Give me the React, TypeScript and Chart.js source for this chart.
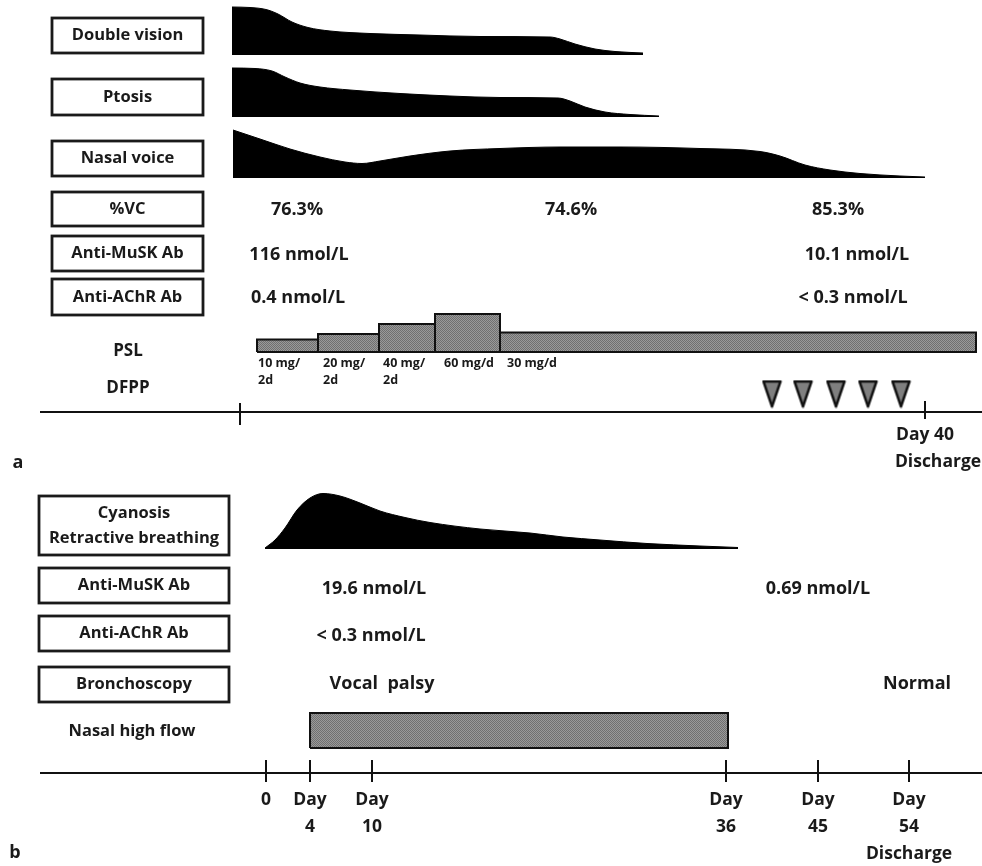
import { useEffect, useRef } from "react";
import { Chart, registerables } from "chart.js";

Chart.register(...registerables);

const W = 982;
const H = 866;
const FONT = '"Open Sans", "DejaVu Sans", sans-serif';

// ---- Panel a: symptom intensity profiles (schematic figure units) ----
const doubleVisionX = [232, 250, 266, 278, 292, 308, 330, 370, 420, 480, 550, 560, 575, 595, 615, 643];
const doubleVisionY = [7, 7.5, 9.5, 14, 22, 27.5, 31, 33.5, 35, 36.5, 37, 39, 44, 49, 51.5, 53];
const doubleVisionBase = 55;

const ptosisX = [232, 255, 272, 285, 300, 320, 350, 400, 450, 500, 558, 570, 585, 605, 630, 659];
const ptosisY = [68, 68.5, 71, 77, 83, 87, 90, 93.5, 96, 97.5, 98, 101, 107, 112, 114.5, 116];
const ptosisBase = 117;

const nasalVoiceX = [233, 260, 290, 320, 345, 362, 380, 410, 450, 500, 560, 620, 700, 760, 780, 805, 830, 860, 900, 925];
const nasalVoiceY = [130, 139, 149, 157, 162, 163.5, 161, 156, 151, 148.5, 147, 147, 148.5, 151.5, 156, 165, 170, 173.5, 176, 177];
const nasalVoiceBase = 178;

// ---- Panel a: PSL dose steps ----
const pslDoses = ["10 mg/\n2d", "20 mg/\n2d", "40 mg/\n2d", "60 mg/d", "30 mg/d"];
const pslStart = [257, 318, 379, 435, 500];
const pslEnd = [318, 379, 435, 500, 976];
const pslTop = [339.5, 334, 324, 314, 332.5];
const pslBase = 352;
const pslLabelX = [258, 323, 383, 444, 507];

// ---- Panel a: DFPP sessions ----
const dfppX = [772, 803, 836, 868, 901];
const dfppY = [394, 394, 394, 394, 394];

// ---- Panel a: values ----
const vcValues = ["76.3%", "74.6%", "85.3%"];
const vcX = [297, 571, 838];
const muskA = ["116 nmol/L", "10.1 nmol/L"];
const muskAX = [299, 857];
const achrA = ["0.4 nmol/L", "< 0.3 nmol/L"];
const achrAX = [298, 853];

// ---- Panel b: cyanosis profile ----
const cyanosisX = [265, 275, 285, 297, 310, 323, 340, 360, 380, 405, 430, 480, 530, 563, 600, 647, 700, 738];
const cyanosisY = [548, 540, 528, 510, 498, 493.5, 496, 503, 511, 517.5, 522.5, 529, 533, 537, 540, 543.5, 546, 547.5];
const cyanosisBase = 549;

// ---- Panel b: nasal high flow period ----
const nhfStart = 310;
const nhfEnd = 728;
const nhfTop = 713;
const nhfBottom = 748;

// ---- Panel b: values ----
const muskB = ["19.6 nmol/L", "0.69 nmol/L"];
const muskBX = [374, 818];
const achrB = ["< 0.3 nmol/L"];
const achrBX = [371];
const bronchB = ["Vocal  palsy", "Normal"];
const bronchBX = [382, 917];

// ---- Time axes ----
const axisA = { y: 412, ticks: [240, 925], tickY: [414, 410], tickHalf: [11, 9] };
const axisB = { y: 773, ticks: [266, 310, 372, 726, 818, 909] };
const axisBLabels = [["0"], ["Day", "4"], ["Day", "10"], ["Day", "36"], ["Day", "45"], ["Day", "54", "Discharge"]];

const labelBoxesA = [
  { text: ["Double vision"], y0: 18, y1: 53 },
  { text: ["Ptosis"], y0: 79, y1: 115 },
  { text: ["Nasal voice"], y0: 141, y1: 176 },
  { text: ["%VC"], y0: 192, y1: 226 },
  { text: ["Anti-MuSK Ab"], y0: 236, y1: 271 },
  { text: ["Anti-AChR Ab"], y0: 279, y1: 315 },
];
const labelBoxesB = [
  { text: ["Cyanosis", "Retractive breathing"], y0: 496, y1: 555 },
  { text: ["Anti-MuSK Ab"], y0: 568, y1: 603 },
  { text: ["Anti-AChR Ab"], y0: 616, y1: 651 },
  { text: ["Bronchoscopy"], y0: 667, y1: 702 },
];

function pts(xs: number[], ys: number[]) {
  return xs.map((x, i) => ({ x, y: ys[i] }));
}

function rect(x0: number, x1: number, y0: number, y1: number) {
  return [
    { x: x0, y: y1 },
    { x: x0, y: y0 },
    { x: x1, y: y0 },
    { x: x1, y: y1 },
    { x: x0, y: y1 },
  ];
}

export default function App() {
  const ref = useRef<HTMLCanvasElement | null>(null);

  useEffect(() => {
    const canvas = ref.current;
    if (!canvas) return;

    // stippled grey pattern
    const pc = document.createElement("canvas");
    pc.width = 2;
    pc.height = 2;
    const pctx = pc.getContext("2d")!;
    pctx.fillStyle = "#9a9a9a";
    pctx.fillRect(0, 0, 2, 2);
    pctx.fillStyle = "#707070";
    pctx.fillRect(0, 0, 1, 1);
    pctx.fillRect(1, 1, 1, 1);
    const ctx0 = canvas.getContext("2d")!;
    const pattern = ctx0.createPattern(pc, "repeat") || "#888";

    // downward triangle marker
    const tri = document.createElement("canvas");
    tri.width = 21;
    tri.height = 29;
    const tctx = tri.getContext("2d")!;
    tctx.beginPath();
    tctx.moveTo(2, 2);
    tctx.lineTo(19, 2);
    tctx.lineTo(10.5, 27);
    tctx.closePath();
    tctx.fillStyle = "#7f7f7f";
    tctx.fill();
    tctx.lineWidth = 2.5;
    tctx.lineJoin = "round";
    tctx.strokeStyle = "#111";
    tctx.stroke();

    const shape = (label: string, data: any[], base: number) => ({
      label,
      data,
      showLine: true,
      fill: { value: base },
      backgroundColor: "#000",
      borderColor: "#000",
      borderWidth: 1,
      pointRadius: 0,
      cubicInterpolationMode: "monotone" as const,
    });

    const box = (label: string, data: any[]) => ({
      label,
      data,
      showLine: true,
      fill: "shape",
      backgroundColor: pattern,
      borderColor: "#111",
      borderWidth: 2,
      pointRadius: 0,
      tension: 0,
    });

    const datasets: any[] = [
      shape("Double vision", pts(doubleVisionX, doubleVisionY), doubleVisionBase),
      shape("Ptosis", pts(ptosisX, ptosisY), ptosisBase),
      shape("Nasal voice", pts(nasalVoiceX, nasalVoiceY), nasalVoiceBase),
      shape("Cyanosis", pts(cyanosisX, cyanosisY), cyanosisBase),
      ...pslStart.map((s, i) => box("PSL " + pslDoses[i], rect(s, pslEnd[i], pslTop[i], pslBase))),
      box("Nasal high flow", rect(nhfStart, nhfEnd, nhfTop, nhfBottom)),
      {
        label: "axis a",
        data: [{ x: 40, y: axisA.y }, { x: W, y: axisA.y }],
        showLine: true,
        borderColor: "#111",
        borderWidth: 2,
        pointRadius: 0,
      },
      {
        label: "axis b",
        data: [{ x: 40, y: axisB.y }, { x: W, y: axisB.y }],
        showLine: true,
        borderColor: "#111",
        borderWidth: 2,
        pointRadius: 0,
      },
      {
        label: "ticks a",
        data: axisA.ticks.map((x, i) => ({ x, y: axisA.tickY[i] })),
        showLine: false,
        pointStyle: "line",
        rotation: 90,
        pointRadius: axisA.tickHalf,
        borderColor: "#111",
        borderWidth: 2,
      },
      {
        label: "ticks b",
        data: axisB.ticks.map((x) => ({ x, y: axisB.y - 2 })),
        showLine: false,
        pointStyle: "line",
        rotation: 90,
        pointRadius: 11,
        borderColor: "#111",
        borderWidth: 2,
      },
      {
        label: "DFPP",
        data: pts(dfppX, dfppY),
        showLine: false,
        pointStyle: tri,
        pointRadius: 10,
      },
    ];

    const textPlugin = {
      id: "schematicText",
      afterDatasetsDraw(chart: any) {
        const c = chart.ctx as CanvasRenderingContext2D;
        const xs = chart.scales.x;
        const ys = chart.scales.y;
        const px = (v: number) => xs.getPixelForValue(v);
        const py = (v: number) => ys.getPixelForValue(v);
        c.save();
        c.fillStyle = "#1a1a1a";
        c.textBaseline = "middle";

        const text = (t: string, x: number, y: number, size: number, align: CanvasTextAlign = "center") => {
          c.font = `bold ${size}px ${FONT}`;
          c.textAlign = align;
          c.fillText(t, px(x), py(y));
        };

        const drawBoxes = (boxes: any[], x0: number, x1: number) => {
          boxes.forEach((b) => {
            c.lineWidth = 2.8;
            c.strokeStyle = "#1a1a1a";
            c.strokeRect(px(x0), py(b.y0), px(x1) - px(x0), py(b.y1) - py(b.y0));
            const cy = (b.y0 + b.y1) / 2;
            const n = b.text.length;
            b.text.forEach((t: string, i: number) => {
              text(t, (x0 + x1) / 2, cy + (i - (n - 1) / 2) * 25, 16.5);
            });
          });
        };
        drawBoxes(labelBoxesA, 52, 203);
        drawBoxes(labelBoxesB, 39, 229);

        // panel a values
        vcValues.forEach((t, i) => text(t, vcX[i], 210, 18));
        muskA.forEach((t, i) => text(t, muskAX[i], 255, 18));
        achrA.forEach((t, i) => text(t, achrAX[i], 298, 18));
        text("PSL", 128, 351, 17);
        text("DFPP", 128, 388, 17);
        pslDoses.forEach((d, i) => {
          d.split("\n").forEach((line, j) => text(line, pslLabelX[i], 363 + j * 17, 12.5, "left"));
        });
        text("Day 40", 925, 435, 17.5);
        text("Discharge", 938, 462, 17.5);
        text("a", 18, 463, 18);

        // panel b values
        muskB.forEach((t, i) => text(t, muskBX[i], 589, 18));
        achrB.forEach((t, i) => text(t, achrBX[i], 636, 18));
        bronchB.forEach((t, i) => text(t, bronchBX[i], 684, 18));
        text("Nasal high flow", 132, 731, 16.5);
        axisB.ticks.forEach((x, i) => {
          axisBLabels[i].forEach((t, j) => text(t, x, 800 + j * 27, 17.5));
        });
        text("b", 15, 853, 18);
        c.restore();
      },
    };

    const chart = new Chart(canvas, {
      type: "scatter",
      data: { datasets },
      options: {
        animation: false,
        responsive: false,
        maintainAspectRatio: false,
        layout: { padding: 0, autoPadding: false },
        scales: {
          x: { type: "linear", min: 0, max: W, display: false },
          y: { type: "linear", min: 0, max: H, reverse: true, display: false },
        },
        plugins: {
          legend: { display: false },
          tooltip: { enabled: false },
        },
        elements: { line: { borderJoinStyle: "miter" } },
      },
      plugins: [textPlugin],
    });

    return () => chart.destroy();
  }, []);

  return (
    <div style={{ position: "absolute", left: 0, top: 0, width: W, height: H, background: "#fff" }}>
      <canvas ref={ref} width={W} height={H} style={{ display: "block" }} />
    </div>
  );
}
